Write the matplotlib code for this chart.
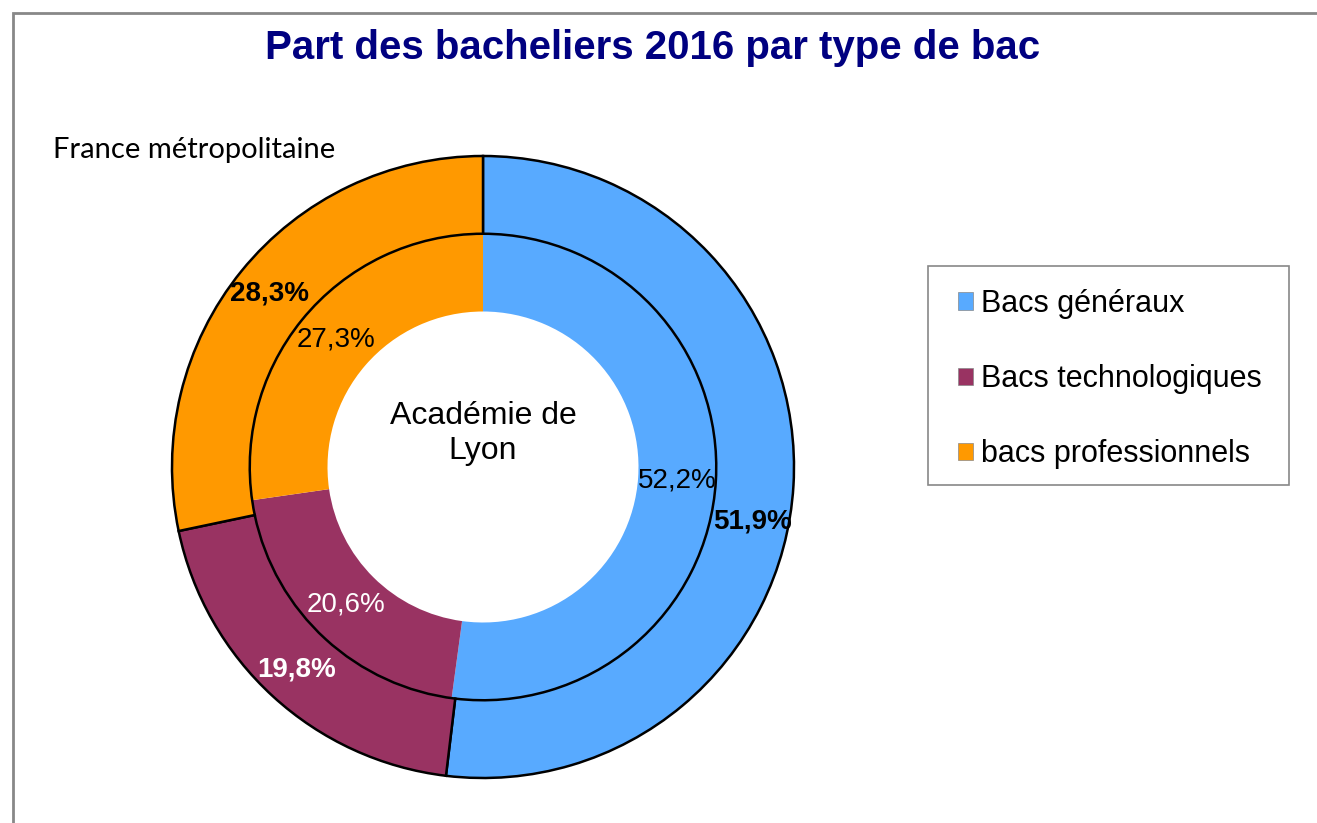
import matplotlib
matplotlib.use("Agg")
import matplotlib.pyplot as plt
from matplotlib.patches import Patch, Rectangle
import numpy as np

# data
categories = ["Bacs généraux", "Bacs technologiques", "bacs professionnels"]
france = [51.9, 19.8, 28.3]   # outer ring, France métropolitaine
lyon = [52.2, 20.6, 27.3]     # inner ring, Académie de Lyon
colors = ["#58AAFF", "#993362", "#FF9900"]

W, H = 1317, 823
fig = plt.figure(figsize=(W / 100, H / 100), dpi=100)
fig.patch.set_facecolor("white")

# frame border (top + left visible)
fig.add_artist(Rectangle((13 / W, -0.05), 1.1, 1 - 13 / H + 0.05,
                         transform=fig.transFigure, facecolor="none",
                         edgecolor="#888888", linewidth=2))

cx, cy, R = 483, 467, 311
ax = fig.add_axes([(cx - R) / W, (H - cy - R) / H, 2 * R / W, 2 * R / H])

inner, _ = ax.pie(lyon, radius=0.75, colors=colors, startangle=90,
                  counterclock=False,
                  wedgeprops=dict(width=0.25, edgecolor="none"))
outer, _ = ax.pie(france, radius=1.0, colors=colors, startangle=90,
                  counterclock=False,
                  wedgeprops=dict(width=0.25, edgecolor="black", linewidth=1.8))
ax.set_xlim(-1, 1)
ax.set_ylim(-1, 1)
ax.set_aspect("equal")
ax.axis("off")

lab_font = "Liberation Sans"
txt_col = ["#000000", "#FFFFFF", "#000000"]
shift = [-8, 0, 0]  # small angle tweaks for label placement
for i, w in enumerate(outer):
    a = np.deg2rad((w.theta1 + w.theta2) / 2 + shift[i])
    ax.text(0.885 * np.cos(a), 0.885 * np.sin(a), f"{france[i]:.1f}%".replace(".", ","),
            ha="center", va="center", fontsize=20, fontweight="bold",
            color=txt_col[i], family=lab_font)
for i, w in enumerate(inner):
    a = np.deg2rad((w.theta1 + w.theta2) / 2)
    ax.text(0.625 * np.cos(a), 0.625 * np.sin(a), f"{lyon[i]:.1f}%".replace(".", ","),
            ha="center", va="center", fontsize=20,
            color=txt_col[i], family=lab_font)

ax.text(0, 0.108, "Académie de\nLyon", ha="center", va="center",
        fontsize=23, family=lab_font, linespacing=1.2)

fig.text(653 / W, 1 - 48 / H, "Part des bacheliers 2016 par type de bac",
         ha="center", va="center", fontsize=29, fontweight="bold",
         color="#000080", family=lab_font)
fig.text(53 / W, 1 - 150 / H, "France métropolitaine", ha="left", va="center",
         fontsize=21, family="Lato")

# legend box drawn separately so padding matches
fig.add_artist(Rectangle((928 / W, 1 - 485 / H), (1289 - 928) / W, (485 - 266) / H,
                         transform=fig.transFigure, facecolor="white",
                         edgecolor="#888888", linewidth=1.2))
handles = [Patch(facecolor=c, edgecolor="#888888", linewidth=0.5) for c in colors]
leg = fig.legend(handles, categories, loc="upper left",
                 bbox_to_anchor=(958 / W, 1 - 289 / H), borderaxespad=0,
                 prop={"family": lab_font, "size": 22}, frameon=False,
                 handlelength=0.5, handleheight=0.5, handletextpad=0.25,
                 labelspacing=1.48, borderpad=0)

fig.savefig("out.png", dpi=100)
